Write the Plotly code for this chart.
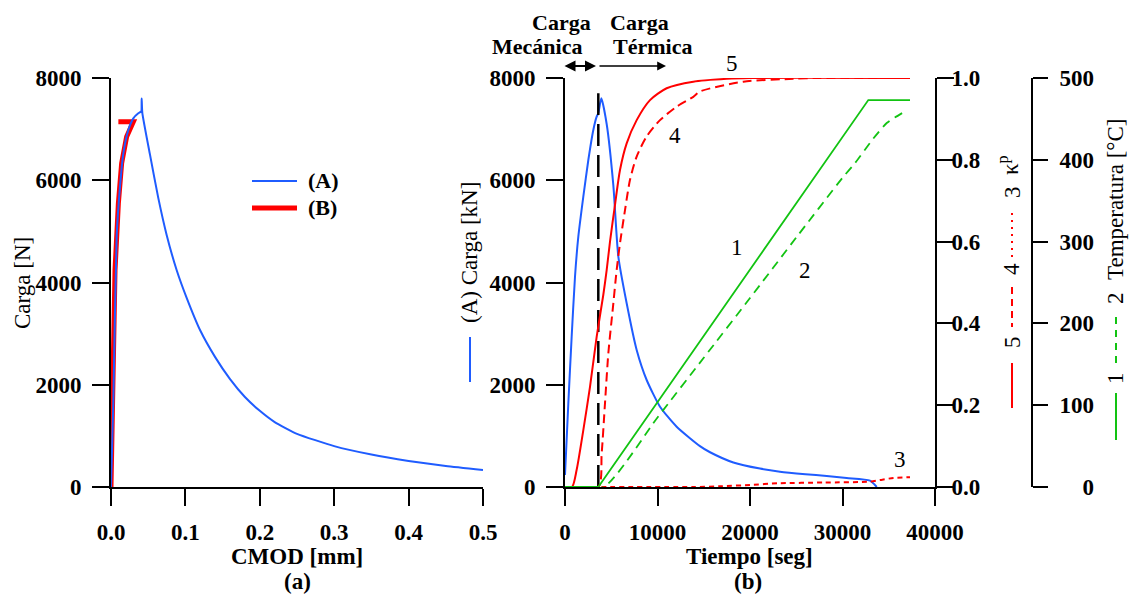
import plotly.graph_objects as go

# ---------------- data ----------------
# Panel (a): load vs CMOD
cmod_A = [0.0, 0.0031, 0.0076, 0.0121, 0.0166, 0.0233, 0.030, 0.0367, 0.0405, 0.0410, 0.0412, 0.0421,
          0.0524, 0.0636, 0.0748, 0.0883, 0.1017, 0.120, 0.140, 0.160, 0.180, 0.200, 0.220,
          0.250, 0.300, 0.350, 0.400, 0.450, 0.500]
load_A = [0, 1637, 4897, 5875, 6526, 6983, 7211, 7309, 7345, 7360, 7600, 7320,
          6500, 5650, 4930, 4240, 3700, 3060, 2540, 2110, 1760, 1490, 1270,
          1040, 800, 635, 510, 410, 333]

cmod_B = [0.0, 0.002, 0.0031, 0.0054, 0.0099, 0.0143, 0.021, 0.0278, 0.030, 0.0099]
load_B = [0, 1500, 2810, 4244, 5548, 6330, 6852, 7090, 7145, 7145]

# Panel (b): time histories
t_A = [0, 360, 720, 1081, 1440, 1981, 2522, 3062, 3423, 3600, 3930, 4505, 5226, 5766, 6667,
       7748, 8829, 10270, 12070, 14590, 15680, 18200, 21080, 23240, 26000, 28290, 30450, 32970, 33700]
carga_A = [235, 1637, 2940, 4113, 4896, 5678, 6396, 6983, 7243, 7310, 7603, 7100, 5900, 4505, 3593,
           2680, 2093, 1571, 1180, 800, 680, 480, 360, 300, 250, 215, 175, 124, 0]

t_5 = [0, 760, 1261, 1981, 2703, 3423, 4143, 4505, 4865, 5405, 5946, 6667, 7748, 9189, 10990,
       13870, 17480, 20000, 37300]
kp_5 = [0, 0, 0.042, 0.139, 0.245, 0.367, 0.47, 0.53, 0.60, 0.69, 0.775, 0.84, 0.897, 0.946, 0.975,
        0.991, 0.998, 1.0, 1.0]

t_4 = [0, 3603, 3965, 4324, 4685, 5226, 5586, 5946, 6487, 7027, 7748, 8829, 10270, 12070, 13870,
       14590, 19280, 24690, 27000, 37300]
kp_4 = [0, 0, 0.082, 0.205, 0.327, 0.449, 0.531, 0.596, 0.677, 0.751, 0.808, 0.857, 0.897, 0.93, 0.954,
        0.967, 0.991, 0.998, 1.0, 1.0]

t_3 = [0, 14000, 17000, 20000, 23000, 28000, 33000, 34300, 35500, 37300]
kp_3 = [0, 0, 0.002, 0.005, 0.009, 0.011, 0.013, 0.018, 0.022, 0.024]

t_1 = [0, 3600, 32790, 37300]
temp_1 = [0, 0, 473, 473]

t_2 = [0, 4200, 10000, 15000, 20000, 25000, 30000, 31350, 33330, 34780, 35700, 36580]
temp_2 = [0, 0, 85, 158, 231, 305, 378, 396, 426, 445, 452, 458]

t_transicion = 3600
carga_transicion_top = 7700

x_ticks_a = [0.0, 0.1, 0.2, 0.3, 0.4, 0.5]
y_ticks_load = [0, 2000, 4000, 6000, 8000]
x_ticks_b = [0, 10000, 20000, 30000, 40000]
y_ticks_kp = [0.0, 0.2, 0.4, 0.6, 0.8, 1.0]
y_ticks_temp = [0, 100, 200, 300, 400, 500]
temp_tick_text = ["\u2007\u20070", "100", "200", "300", "400", "500"]

# ---------------- styling ----------------
W, H = 1130, 596
SERIF = "Liberation Serif"
BLUE = "#1f5cff"
RED = "#ff0000"
GREEN = "#12c312"


def px(x):
    return x / W


def py(y):
    return 1 - y / H


fig = go.Figure()

# Panel (a)
fig.add_trace(go.Scatter(x=cmod_B, y=load_B, mode="lines", line=dict(color=RED, width=5),
                         xaxis="x", yaxis="y", name="(B)", showlegend=False))
fig.add_trace(go.Scatter(x=cmod_A, y=load_A, mode="lines",
                         line=dict(color=BLUE, width=2, shape="spline", smoothing=0.5),
                         xaxis="x", yaxis="y", name="(A)", showlegend=False))

# Panel (b)
fig.add_trace(go.Scatter(x=t_1, y=temp_1, mode="lines", line=dict(color=GREEN, width=1.8),
                         xaxis="x2", yaxis="y4", showlegend=False))
fig.add_trace(go.Scatter(x=t_2, y=temp_2, mode="lines",
                         line=dict(color=GREEN, width=1.8, dash="9px,6px", shape="spline", smoothing=0.6),
                         xaxis="x2", yaxis="y4", showlegend=False))
fig.add_trace(go.Scatter(x=t_3, y=kp_3, mode="lines",
                         line=dict(color=RED, width=2, dash="5px,4px", shape="spline", smoothing=0.6),
                         xaxis="x2", yaxis="y3", showlegend=False))
fig.add_trace(go.Scatter(x=t_4, y=kp_4, mode="lines",
                         line=dict(color=RED, width=2, dash="9px,5px", shape="spline", smoothing=0.7),
                         xaxis="x2", yaxis="y3", showlegend=False))
fig.add_trace(go.Scatter(x=t_5, y=kp_5, mode="lines",
                         line=dict(color=RED, width=2, shape="spline", smoothing=0.7),
                         xaxis="x2", yaxis="y3", showlegend=False))
fig.add_trace(go.Scatter(x=t_A, y=carga_A, mode="lines",
                         line=dict(color=BLUE, width=2, shape="spline", smoothing=0.6),
                         xaxis="x2", yaxis="y2", showlegend=False))
fig.add_trace(go.Scatter(x=[t_transicion, t_transicion], y=[0, carga_transicion_top], mode="lines",
                         line=dict(color="black", width=2.5, dash="22px,9px"),
                         xaxis="x2", yaxis="y2", showlegend=False))

tickfont = dict(family=SERIF, size=23, color="black", weight="bold")
common = dict(showline=True, linecolor="black", linewidth=2, ticks="outside", ticklen=17,
              tickwidth=2, tickcolor="black", showgrid=False, zeroline=False, tickfont=tickfont,
              automargin=False)

ydom = [py(487), py(78)]

fig.update_layout(
    width=W, height=H,
    margin=dict(l=0, r=0, t=0, b=0, pad=0, autoexpand=False),
    paper_bgcolor="white", plot_bgcolor="white",
    showlegend=False,
    xaxis=dict(domain=[px(111), px(483)], range=[0, 0.5], anchor="y",
               tickvals=x_ticks_a, tickformat=".1f", ticklabelstandoff=6, **common),
    yaxis=dict(domain=ydom, range=[0, 8000], anchor="x",
               tickvals=y_ticks_load, ticklabelstandoff=6, **common),
    xaxis2=dict(domain=[px(565), px(935)], range=[0, 40000], anchor="y2",
                tickvals=x_ticks_b, tickformat="d", ticklabelstandoff=6, **common),
    yaxis2=dict(domain=ydom, range=[0, 8000], anchor="x2",
                tickvals=y_ticks_load, ticklabelstandoff=6, **common),
    yaxis3=dict(range=[0, 1], overlaying="y2", side="right", anchor="x2",
                tickvals=y_ticks_kp, tickformat=".1f", ticklabelstandoff=-7, **common),
    yaxis4=dict(range=[0, 500], overlaying="y2", side="right", anchor="free",
                position=px(1032), tickvals=y_ticks_temp, ticktext=temp_tick_text,
                ticklabelstandoff=7, **{**common, "ticklen": 15}),
)

ann = []


def text(x, y, s, size=22, bold=False, angle=0, xanchor="center"):
    ann.append(dict(x=px(x), y=py(y), xref="paper", yref="paper", text=s, showarrow=False,
                    textangle=angle, xanchor=xanchor, yanchor="middle",
                    font=dict(family=SERIF, size=size, color="black",
                              weight="bold" if bold else "normal")))


# Panel (a) texts
text(22, 283, "Carga [N]", size=23, angle=-90)
text(297, 556, "CMOD [mm]", size=23, bold=True)
text(297, 581, "(a)", size=23, bold=True)
text(306, 181, "(A)", size=22, bold=True, xanchor="left")
text(306, 208, "(B)", size=22, bold=True, xanchor="left")

# Panel (b) texts
text(749, 556, "Tiempo [seg]", size=23, bold=True)
text(748, 581, "(b)", size=23, bold=True)
text(561, 22, "Carga", size=22, bold=True)
text(537, 47, "Mecánica", size=22, bold=True)
text(639, 22, "Carga", size=22, bold=True)
text(652, 47, "Térmica", size=22, bold=True)
text(732, 63, "5", size=23)
text(675, 135, "4", size=23)
text(737, 247, "1", size=23)
text(805, 270, "2", size=23)
text(900, 459, "3", size=23)

# rotated axis titles
text(470, 253, "(A) Carga [kN]", size=23, angle=-90)
text(1012, 342, "5", size=23, angle=-90)
text(1012, 269, "4", size=23, angle=-90)
text(1012, 192, "3", size=23, angle=-90)
text(1009, 165, "κ<sup>p</sup>", size=23, angle=-90)
text(1115, 378, "1", size=23, angle=-90)
text(1115, 298, "2", size=23, angle=-90)
text(1116, 200, "Temperatura [°C]", size=23, angle=-90)

# arrows
ann.append(dict(x=px(596), y=py(66), xref="paper", yref="paper", ax=-33, ay=0, text="",
                showarrow=True, arrowhead=2, startarrowhead=2, arrowside="end+start",
                arrowsize=1.1, arrowwidth=2, arrowcolor="black"))
ann.append(dict(x=px(666), y=py(66), xref="paper", yref="paper", ax=-68, ay=0, text="",
                showarrow=True, arrowhead=2, arrowsize=1.1, arrowwidth=1.6, arrowcolor="black"))

fig.update_layout(annotations=ann)

shapes = []


def seg(x0, y0, x1, y1, color, width, dash="solid"):
    shapes.append(dict(type="line", xref="paper", yref="paper", x0=px(x0), y0=py(y0),
                       x1=px(x1), y1=py(y1), line=dict(color=color, width=width, dash=dash)))


# legend samples panel (a)
seg(252, 181, 297, 181, BLUE, 2)
seg(252, 208, 297, 208, RED, 5)
# axis-title line samples
seg(470, 337, 470, 382, BLUE, 2)
seg(1012, 363, 1012, 408, RED, 2)
seg(1012, 287, 1012, 327, RED, 2, "7px,5px")
seg(1012, 213, 1012, 257, RED, 2, "2px,5px")
seg(1116, 393, 1116, 440, GREEN, 2)
seg(1116, 317, 1116, 363, GREEN, 2, "7px,6px")

fig.update_layout(shapes=shapes)

fig.write_html("out.html")
